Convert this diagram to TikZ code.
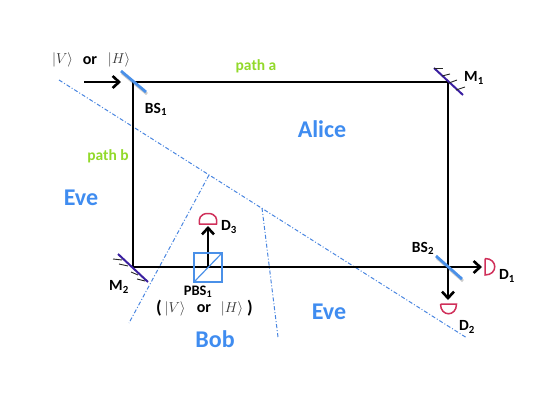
\documentclass[tikz,border=0pt]{standalone}
\usepackage{fontspec}
\setmainfont{Carlito}
\usetikzlibrary{arrows.meta}
\definecolor{bluetxt}{HTML}{3F8CF0}
\definecolor{beam}{HTML}{4A90E8}
\definecolor{greentxt}{HTML}{92D92A}
\definecolor{mirror}{HTML}{3A1FA0}
\definecolor{det}{HTML}{D0305A}
\definecolor{dashc}{HTML}{4A86E0}
\tikzset{
 x=1pt,y=-1pt,
 beamline/.style={black,line width=2.6pt},
 arrowbeam/.style={beamline,-{Straight Barb[length=6.5pt,width=12pt,line width=2.6pt]}},
 bsplit/.style={beam,line width=2.8pt},
 bshadow/.style={black!20,line width=2.8pt},
 mirrorline/.style={mirror,line width=2pt},
 tick/.style={black!85,line width=.9pt},
 detector/.style={det,line width=1.5pt},
 region/.style={dashc,line width=1pt,dash pattern=on 4pt off 2pt on 1pt off 2pt},
 cube/.style={beam,line width=1.2pt},
 lab/.style={inner sep=0pt,font=\bfseries\fontsize{15.5}{15.5}\selectfont},
 smalllab/.style={inner sep=0pt,font=\bfseries\fontsize{14.5}{14.5}\selectfont},
 orlab/.style={inner sep=0pt,font=\bfseries\fontsize{16}{16}\selectfont},
 parenlab/.style={inner sep=0pt,font=\bfseries\fontsize{18}{18}\selectfont},
 mathlab/.style={inner sep=0pt,font=\fontsize{15}{15}\selectfont,text=black!80},
 greenlab/.style={lab,text=greentxt},
 bluelab/.style={inner sep=0pt,text=bluetxt,font=\bfseries\fontsize{24}{24}\selectfont},
}
\begin{document}
\begin{tikzpicture}
\useasboundingbox (0,0) rectangle (560,400);
\coordinate (in) at (84,82);
\coordinate (bs1) at (133,82);
\coordinate (m1) at (448,82);
\coordinate (m2) at (133,267);
\coordinate (bs2) at (448,267);
\coordinate (pbs) at (208,267);
\coordinate (d1tip) at (482,267);
\coordinate (d2tip) at (448,300);
\coordinate (d3tip) at (208,226);
\coordinate (rA) at (59,80);
\coordinate (rB) at (467,338);
\coordinate (rC) at (209,175);
\coordinate (rD) at (129,323);
\coordinate (rE) at (262,208);
\coordinate (rF) at (278,337);
% regions
\draw[region] (rA) -- (rB);
\draw[region] (rC) -- (rD);
\draw[region] (rE) -- (rF);
% beams
\draw[bshadow] (122,73) -- (147,94);
\draw[bshadow] (437,258) -- (463,281);
\draw[arrowbeam] (in) -- (121,82);
\draw[beamline,line join=miter] (bs1) -- (m1) -- (bs2);
\draw[beamline] (bs1) -- (m2);
\draw[beamline] (m2) -- (bs2);
\draw[arrowbeam] (bs2) -- (d1tip);
\draw[arrowbeam] (bs2) -- (d2tip);
\draw[arrowbeam] (pbs) -- (d3tip);
% splitters
\draw[bsplit] (121,71) -- (146,92);
\draw[bsplit] (436,256) -- (462,279);
% PBS
\draw[cube] (194,253) rectangle (222,282);
\draw[cube] (194,282) -- (222,253);
% mirrors
\draw[mirrorline] (434,68) -- (463,95);
\foreach \a/\b/\c/\d in {434/68/443/68,442/76/450/74,449/83/457/80,456/90/465/87}
  \draw[tick] (\a,\b) -- (\c,\d);
\draw[mirrorline] (118,254) -- (148,282);
\foreach \a/\b/\c/\d in {122/260/113/259,128/266/119/264,138/275/131/272,145/281/137/279}
  \draw[tick] (\a,\b) -- (\c,\d);
% detectors
\draw[detector] (485,258.5) -- (485,275) .. controls (498,275) and (498,258.5) .. (485,258.5);
\draw[detector] (440.5,304) -- (456.5,304) .. controls (456.5,317) and (440.5,317) .. (440.5,304);
\draw[detector] (199.5,224) -- (216.5,224) .. controls (217.5,219) and (216,213.5) .. (208,213.5) .. controls (200,213.5) and (198.5,219) .. (199.5,224) -- cycle;
% labels
\node[mathlab] (v) at (62.5,60) {$|V\rangle$};
\node[orlab] (or1) at (90,61) {or};
\node[mathlab] (h) at (119,60) {$|H\rangle$};
\node[lab] (bs1l) at (156,109) {BS$_{\mathbf{1}}$};
\node[greenlab] (pa) at (256,66) {path a};
\node[greenlab] (pb) at (108,156) {path b};
\node[lab] (m1l) at (474,78) {M$_{\mathbf{1}}$};
\node[bluelab] (alice) at (322,129) {Alice};
\node[bluelab] (eve1) at (81,198) {Eve};
\node[bluelab] (eve2) at (329,312) {Eve};
\node[bluelab] (bob) at (215,339) {Bob};
\node[lab] (d3l) at (229,227) {D$_{\mathbf{3}}$};
\node[lab] (bs2l) at (423,248) {BS$_{\mathbf{2}}$};
\node[lab] (d1l) at (507,276) {D$_{\mathbf{1}}$};
\node[lab] (d2l) at (467,327) {D$_{\mathbf{2}}$};
\node[lab] (m2l) at (119,287) {M$_{\mathbf{2}}$};
\node[smalllab] (pbsl) at (198,292) {PBS$_{\mathbf{1}}$};
\node[parenlab] (lp) at (159,308) {(};
\node[mathlab] (v2) at (175,309) {$|V\rangle$};
\node[orlab] (or2) at (204,309) {or};
\node[mathlab] (h2) at (232,309) {$|H\rangle$};
\node[parenlab] (rp) at (250,308) {)};
\end{tikzpicture}
\end{document}
